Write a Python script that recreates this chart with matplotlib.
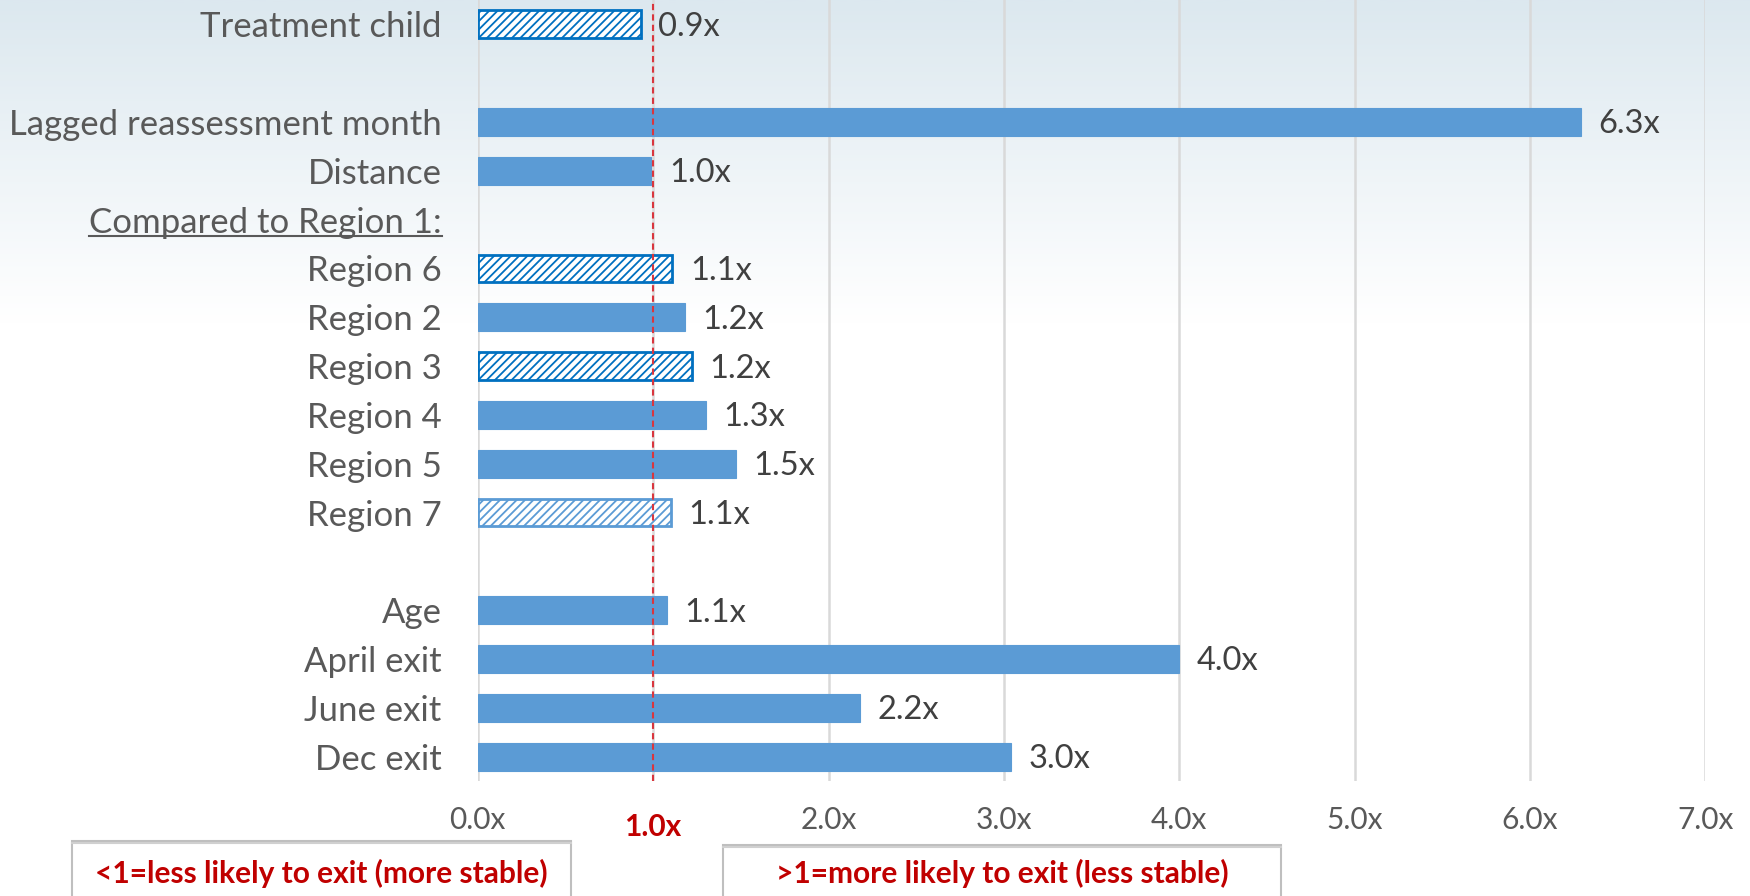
import numpy as np
import matplotlib
matplotlib.use("Agg")
import matplotlib.pyplot as plt
from matplotlib.patches import Rectangle
from matplotlib.lines import Line2D
from matplotlib.colors import LinearSegmentedColormap

plt.rcParams['font.family'] = ['Lato', 'DejaVu Sans']
plt.rcParams['hatch.linewidth'] = 1.3

# rows top to bottom, "" = empty spacer row
categories = ["Treatment child", "", "Lagged reassessment month", "Distance",
              "Compared to Region 1:", "Region 6", "Region 2", "Region 3",
              "Region 4", "Region 5", "Region 7", "", "Age", "April exit",
              "June exit", "Dec exit"]
odds = [0.93, None, 6.29, 0.99, None, 1.11, 1.18, 1.22, 1.30, 1.47, 1.10,
        None, 1.08, 4.00, 2.18, 3.04]
odds_labels = ["0.9x", "", "6.3x", "1.0x", "", "1.1x", "1.2x", "1.2x", "1.3x",
               "1.5x", "1.1x", "", "1.1x", "4.0x", "2.2x", "3.0x"]
# "solid" = significant, "hatch" = not significant, "hatch_light" = the faded one
bar_kind = ["hatch", None, "solid", "solid", None, "hatch", "solid", "hatch",
            "solid", "solid", "hatch_light", None, "solid", "solid", "solid", "solid"]
xticks = [0, 1, 2, 3, 4, 5, 6, 7]
xtick_labels = ["0.0x", "", "2.0x", "3.0x", "4.0x", "5.0x", "6.0x", "7.0x"]

blue = "#5b9bd5"
dark_blue = "#0070c0"
red = "#c00000"

fig = plt.figure(figsize=(17.5, 8.96), dpi=100)

# soft gradient background at the top
bg = fig.add_axes([0, 0, 1, 1], zorder=0)
grad = np.linspace(0, 1, 300).reshape(-1, 1)
cmap = LinearSegmentedColormap.from_list("bg", [(0, "#dce8ef"), (0.36, "#ffffff"), (1, "#ffffff")])
bg.imshow(grad, aspect="auto", cmap=cmap, extent=[0, 1, 0, 1], origin="upper")
bg.axis("off")

ax = fig.add_axes([0.273, 0.1283, 0.7015, 0.8717], zorder=1)
ax.patch.set_alpha(0)

y = np.arange(len(categories))
for i in range(len(categories)):
    if odds[i] is None:
        continue
    kind = bar_kind[i]
    if kind == "solid":
        ax.barh(y[i], odds[i], height=0.57, color=blue, edgecolor=blue, linewidth=0.8, zorder=2)
    elif kind == "hatch":
        ax.barh(y[i], odds[i], height=0.57, color="white", edgecolor=dark_blue,
                hatch="////", linewidth=2, zorder=2)
    else:
        ax.barh(y[i], odds[i], height=0.57, color="white", edgecolor=blue,
                hatch="////", linewidth=2, zorder=2)
    ax.text(odds[i] + 0.1, y[i] + 0.05, odds_labels[i], va="center", ha="left",
            fontsize=23.5, color="#404040", zorder=3)

ax.axvline(1.0, color="#d9363e", ls=(0, (3, 2)), lw=1.5, zorder=4)

ax.set_xlim(0, 7)
ax.set_ylim(len(categories) - 0.5, -0.5)
ax.set_xticks(xticks)
ax.set_xticklabels(xtick_labels, fontsize=21.5, color="#595959")
ax.set_yticks(y)
ax.set_yticklabels(categories, fontsize=25, color="#595959")
ax.tick_params(axis="x", length=0, pad=18)
ax.tick_params(axis="y", length=0, pad=26)
ax.xaxis.grid(True, color="#d9d9d9", lw=1.8, zorder=0)
ax.set_axisbelow(True)
for s in ax.spines.values():
    s.set_visible(False)

# red bold label for the reference line
ax.text(1.0, -0.059, "1.0x", transform=ax.get_xaxis_transform(), ha="center", va="center",
        fontsize=21.5, fontweight="bold", color=red)

# two legend boxes below the axis
W, H = 1750.0, 896.0
for x0, x1, top, txt in [(72, 571, 841, "<1=less likely to exit (more stable)"),
                         (723, 1281, 845, ">1=more likely to exit (less stable)")]:
    fig.patches.append(Rectangle((x0 / W, -0.02), (x1 - x0) / W, (H - top) / H + 0.02,
                                 transform=fig.transFigure, facecolor="white",
                                 edgecolor="#bfbfbf", linewidth=1.5, zorder=5))
    fig.add_artist(Line2D([x0 / W, x1 / W], [(H - top - 2) / H] * 2, color="#d0d0d0",
                          lw=1.5, zorder=6))
    fig.text((x0 + x1) / 2 / W, (H - 873) / H, txt, ha="center", va="center",
             fontsize=21.5, fontweight="bold", color=red, zorder=7)

# underline the "Compared to Region 1:" heading
fig.canvas.draw()
lab = ax.get_yticklabels()[4]
bb = lab.get_window_extent()
uy = (bb.y0 + 3) / fig.bbox.height
fig.add_artist(Line2D([bb.x0 / fig.bbox.width, bb.x1 / fig.bbox.width], [uy, uy],
                      color="#595959", lw=1.5, zorder=8))

fig.savefig("out.png", dpi=100)
